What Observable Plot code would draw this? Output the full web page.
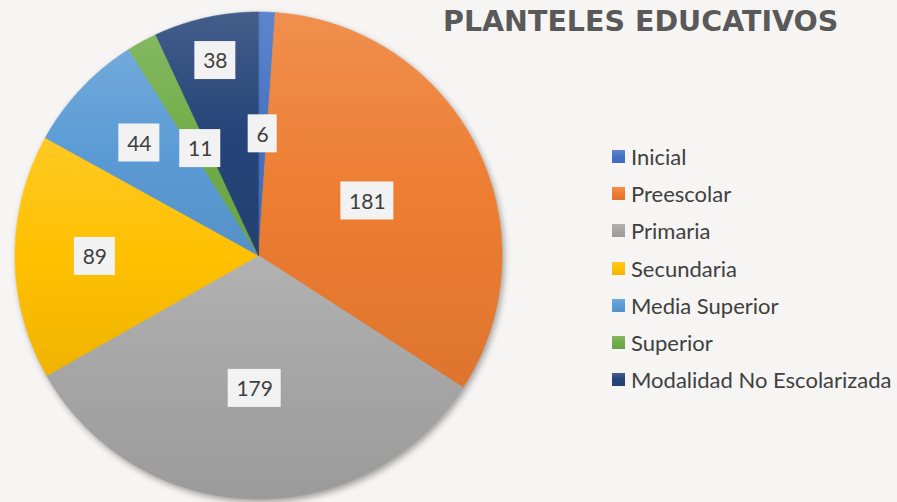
<!DOCTYPE html>
<html>
<head>
<meta charset="utf-8">
<script src="https://cdn.jsdelivr.net/npm/d3@7"></script>
<script src="https://cdn.jsdelivr.net/npm/@observablehq/plot@0.6"></script>
<style>
  html, body { margin: 0; padding: 0; background: #f6f5f3; }
  #wrap { position: relative; width: 897px; height: 502px; overflow: hidden; background: #f6f5f3; }
  #title { position: absolute; left: 443px; top: 5px; font-family: "DejaVu Sans", sans-serif; font-weight: 700; font-size: 28.5px; color: #595959; white-space: nowrap; }
  #legend { position: absolute; left: 612px; top: 138px; font-family: Lato, sans-serif; font-size: 22px; color: #404040; }
  .item { display: flex; align-items: center; height: 37.2px; white-space: nowrap; }
  .sw { width: 13px; height: 13px; margin-right: 6px; flex: none; }
</style>
</head>
<body>
<div id="wrap">
  <div id="chart"></div>
  <div id="title">PLANTELES EDUCATIVOS</div>
  <div id="legend"></div>
</div>
<script>
// ---- data ----
const categories = ["Inicial", "Preescolar", "Primaria", "Secundaria", "Media Superior", "Superior", "Modalidad No Escolarizada"];
const values = [6, 181, 179, 89, 44, 11, 38];
const colors = ["#4472C4", "#ED7D31", "#A5A5A5", "#FFC000", "#5B9BD5", "#70AD47", "#264478"];
// label distance from centre, as a fraction of the radius (layout)
const labelRadius = [0.50, 0.50, 0.546, 0.672, 0.673, 0.50, 0.82];

// ---- layout ----
const W = 897, H = 502, CX = 258, CY = 255, R = 243.5;

const total = d3.sum(values);
let cum = 0;
const slices = categories.map((c, i) => {
  const a0 = cum / total * 2 * Math.PI;
  cum += values[i];
  const a1 = cum / total * 2 * Math.PI;
  return {cat: c, value: values[i], a0, a1, i};
});

const pts = [];
for (const s of slices) {
  pts.push({cat: s.cat, x: 0, y: 0});
  const n = Math.max(2, Math.ceil((s.a1 - s.a0) / 0.01));
  for (let k = 0; k <= n; k++) {
    const a = s.a0 + (s.a1 - s.a0) * k / n;
    pts.push({cat: s.cat, x: Math.sin(a), y: Math.cos(a)});
  }
}

const labels = slices.map(s => {
  const m = (s.a0 + s.a1) / 2, r = labelRadius[s.i];
  const lx = Math.sin(m) * r, ly = Math.cos(m) * r;
  const hw = (17 + 12 * String(s.value).length) / 2 / R;
  const hh = 19 / R;
  return {cat: s.cat, value: s.value, lx, ly, x1: lx - hw, x2: lx + hw, y1: ly - hh, y2: ly + hh};
});

const gradIds = categories.map((c, i) => "grad" + i);

const plot = Plot.plot({
  width: W,
  height: H,
  x: {domain: [-1, 1], range: [CX - R, CX + R], axis: null},
  y: {domain: [-1, 1], range: [CY + R, CY - R], axis: null},
  color: {type: "ordinal", domain: categories, range: gradIds.map(id => `url(#${id})`)},
  style: {background: "transparent", overflow: "visible"},
  marks: [
    Plot.line(pts, {x: "x", y: "y", z: "cat", fill: "cat", stroke: "cat", strokeWidth: 0.6, curve: "linear-closed"}),
    Plot.rect(labels, {x1: "x1", x2: "x2", y1: "y1", y2: "y2", fill: "#f2f2f2"}),
    Plot.text(labels, {x: "lx", y: "ly", text: d => String(d.value), fill: "#404040", fontSize: 21, fontFamily: "Lato", dy: 1})
  ]
});

// gradients (light at top, darker at bottom of each slice)
const svg = d3.select(plot);
const defs = svg.insert("defs", ":first-child");
colors.forEach((c, i) => {
  const g = defs.append("linearGradient").attr("id", gradIds[i]).attr("x1", 0).attr("y1", 0).attr("x2", 0).attr("y2", 1);
  g.append("stop").attr("offset", "0%").attr("stop-color", d3.interpolateRgb(c, "#ffffff")(0.14));
  g.append("stop").attr("offset", "50%").attr("stop-color", c);
  g.append("stop").attr("offset", "100%").attr("stop-color", d3.color(c).darker(0.18).formatHex());
});
svg.select('g[aria-label="line"]').style("filter", "drop-shadow(2px 3px 3px rgba(0,0,0,0.35))");

document.getElementById("chart").appendChild(plot);

// legend
const legend = d3.select("#legend");
categories.forEach((c, i) => {
  const it = legend.append("div").attr("class", "item");
  const top = d3.interpolateRgb(colors[i], "#ffffff")(0.14), bot = d3.color(colors[i]).darker(0.18).formatHex();
  it.append("div").attr("class", "sw").style("background", `linear-gradient(${top}, ${colors[i]}, ${bot})`);
  it.append("span").text(c);
});
</script>
</body>
</html>
